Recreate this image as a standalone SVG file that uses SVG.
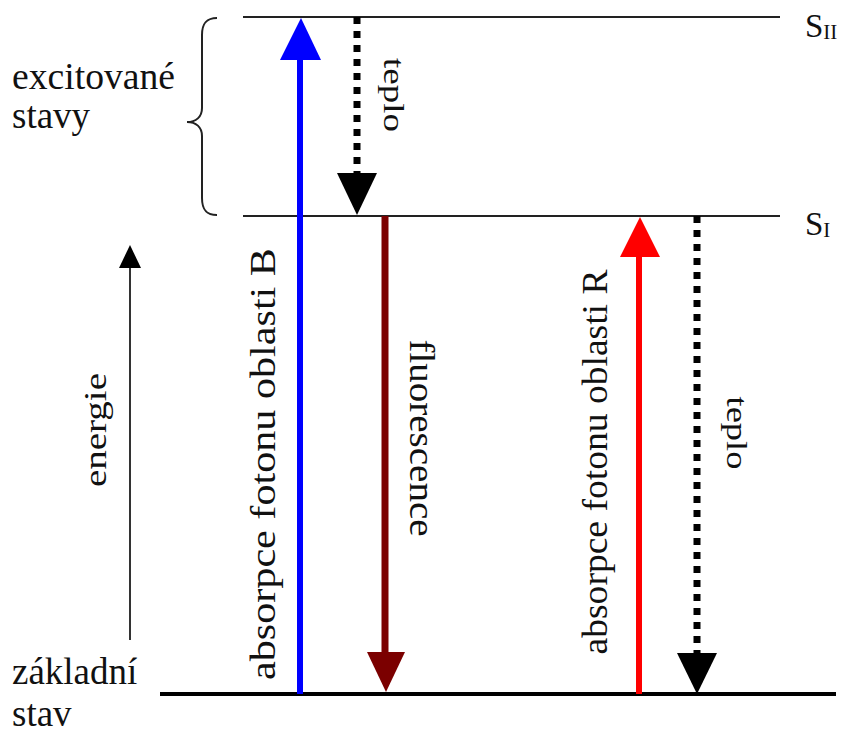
<svg xmlns="http://www.w3.org/2000/svg" width="842" height="733" viewBox="0 0 842 733">
<style>
.t{font-family:'Liberation Serif','Times New Roman',Tinos,'Nimbus Roman','DejaVu Serif',serif;fill:#111}
.lvl{stroke:#222;stroke-width:2;fill:none}
.dash{stroke:#000;stroke-width:7;stroke-dasharray:7 7;fill:none}
</style>
<rect width="842" height="733" fill="#fff"/>
<g id="levels">
<line class="lvl" x1="243" y1="17" x2="780" y2="17"/>
<line class="lvl" x1="243" y1="216" x2="780" y2="216"/>
<line x1="160" y1="694" x2="836" y2="694" stroke="#000" stroke-width="4"/>
</g>
<g id="labels" font-family="Liberation Serif, serif">
<text class="t" x="805" y="37" font-size="33">S<tspan font-size="21" dy="2">II</tspan></text>
<text class="t" x="805" y="235" font-size="33">S<tspan font-size="21" dy="2">I</tspan></text>
<text class="t" x="12" y="89" font-size="37" textLength="163" lengthAdjust="spacingAndGlyphs">excitované</text>
<text class="t" x="12" y="128" font-size="37">stavy</text>
<text class="t" x="12" y="684" font-size="37">základní</text>
<text class="t" x="12" y="726" font-size="37">stav</text>
<path d="M217,18 C205,18 202,25 202,35 L202,108 C202,117 196,122 187,122 C196,122 202,127 202,136 L202,198 C202,208 205,215 217,215" stroke="#222" stroke-width="2" fill="none"/>
</g>
<g id="connectors" font-family="Liberation Serif, serif">
<g id="energie">
<line x1="130" y1="640" x2="130" y2="266" stroke="#333" stroke-width="2"/>
<polygon points="130,245 119,268 141,268" fill="#000"/>
<text class="t" transform="translate(106,430) rotate(-90)" font-size="32" text-anchor="middle" textLength="114" lengthAdjust="spacingAndGlyphs">energie</text>
</g>
<g id="absB">
<line x1="300" y1="694" x2="300" y2="58" stroke="#0000ff" stroke-width="6"/>
<polygon points="301,18 280,60 321,60" fill="#0000ff"/>
<text class="t" transform="translate(275,464) rotate(-90)" font-size="36" text-anchor="middle" textLength="432" lengthAdjust="spacingAndGlyphs">absorpce fotonu  oblasti B</text>
</g>
<g id="teplo1">
<line class="dash" x1="357" y1="17" x2="357" y2="175"/>
<polygon points="357,215 337,173 377,173" fill="#000"/>
<text class="t" transform="translate(384,95) rotate(90)" font-size="30" text-anchor="middle" textLength="74" lengthAdjust="spacingAndGlyphs">teplo</text>
</g>
<g id="fluor">
<line x1="385" y1="216" x2="385" y2="655" stroke="#7b0000" stroke-width="7"/>
<polygon points="386,692 367,652 405,652" fill="#7b0000"/>
<text class="t" transform="translate(410,438) rotate(90)" font-size="36" text-anchor="middle" textLength="197" lengthAdjust="spacingAndGlyphs">fluorescence</text>
</g>
<g id="absR">
<line x1="639" y1="694" x2="639" y2="255" stroke="#ff0000" stroke-width="6"/>
<polygon points="640,217 620,257 660,257" fill="#ff0000"/>
<text class="t" transform="translate(607,462) rotate(-90)" font-size="36" text-anchor="middle" textLength="385" lengthAdjust="spacingAndGlyphs">absorpce fotonu oblasti R</text>
</g>
<g id="teplo2">
<line class="dash" x1="697" y1="216" x2="697" y2="655"/>
<polygon points="697,694 677,653 717,653" fill="#000"/>
<text class="t" transform="translate(727,433) rotate(90)" font-size="30" text-anchor="middle" textLength="73" lengthAdjust="spacingAndGlyphs">teplo</text>
</g>
</g>
</svg>
